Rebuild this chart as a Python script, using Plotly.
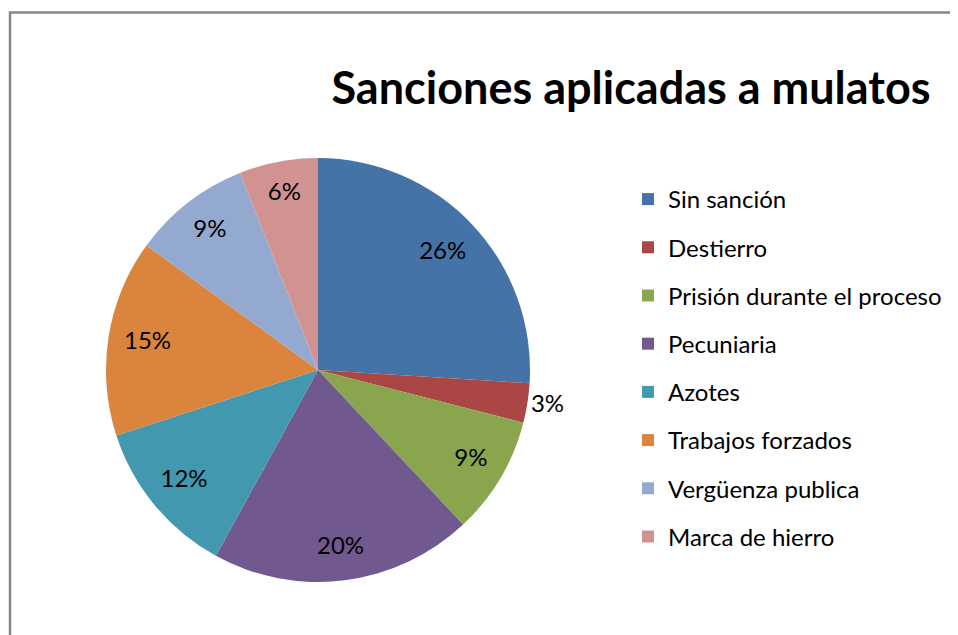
import plotly.graph_objects as go

categorias = ["Sin sanción", "Destierro", "Prisión durante el proceso", "Pecuniaria",
              "Azotes", "Trabajos forzados", "Vergüenza publica", "Marca de hierro"]
porcentajes = [26, 3, 9, 20, 12, 15, 9, 6]
colores = ["#4572A7", "#AA4643", "#89A54E", "#71588F", "#4198AF", "#DB843D", "#93A9CF", "#D19392"]
radio_etiqueta = [0.807, 1.096, 0.838, 0.848, 0.820, 0.814, 0.832, 0.846]
titulo = "Sanciones aplicadas a mulatos"

FONT = "Lato, Carlito, Calibri, sans-serif"
W, H = 958, 635
OFF = 8  # browser default body margin
CX, CY, R = 318 - OFF, 370 - OFF, 212
RMAX = 1.15  # radial range, leaves room for the outside label
RP = R * RMAX
dom_x = [(CX - RP) / W, (CX + RP) / W]
dom_y = [1 - (CY + RP) / H, 1 - (CY - RP) / H]

# slice angles (degrees, clockwise from 12 o'clock)
total = sum(porcentajes)
acum = 0
angulos, anchos = [], []
for v in porcentajes:
    anchos.append(360.0 * v / total)
    angulos.append(360.0 * (acum + v / 2.0) / total)
    acum += v

fig = go.Figure()
for nombre, color, th, wd, v in zip(categorias, colores, angulos, anchos, porcentajes):
    fig.add_trace(go.Barpolar(
        r=[1], theta=[th], width=[wd], name=nombre, legendgroup=nombre,
        marker=dict(color=color, line=dict(width=0)),
        hovertemplate=f"{nombre}: {v}%<extra></extra>",
    ))

fig.add_trace(go.Scatterpolar(
    r=radio_etiqueta, theta=angulos, mode="text",
    text=[f"{v}%" for v in porcentajes],
    textfont=dict(family=FONT, size=24, color="#000000"),
    cliponaxis=False, showlegend=False, hoverinfo="skip",
))

fig.update_layout(
    width=W, height=H,
    margin=dict(l=0, r=0, t=0, b=0),
    paper_bgcolor="white",
    polar=dict(domain=dict(x=dom_x, y=dom_y), bgcolor="rgba(0,0,0,0)",
               bargap=0, hole=0,
               radialaxis=dict(visible=False, range=[0, RMAX]),
               angularaxis=dict(visible=False, rotation=90, direction="clockwise",
                                thetaunit="degrees")),
    title=dict(text="<b>" + titulo + "</b>", x=(631 - OFF) / W, xanchor="center",
               y=1 - (88 - OFF) / H, yanchor="middle",
               font=dict(family=FONT, size=45, color="#000000")),
    legend=dict(x=(628 - OFF) / W, xanchor="left", y=1 - 169 / H, yanchor="top",
                font=dict(family=FONT, size=24, color="#000000"),
                tracegroupgap=14, bgcolor="rgba(0,0,0,0)", itemclick=False,
                itemdoubleclick=False),
    shapes=[dict(type="rect", xref="paper", yref="paper",
                 x0=(10 - OFF) / W, x1=1.02, y0=-0.02, y1=1 - (12.5 - OFF) / H,
                 line=dict(color="#878787", width=2.5))],
)

fig.write_html("out.html")
